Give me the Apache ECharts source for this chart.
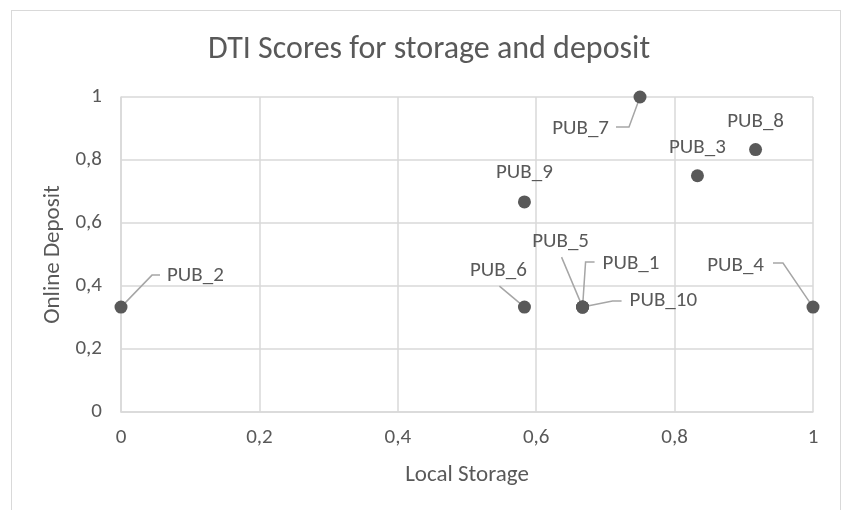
<!DOCTYPE html>
<html>
<head>
<meta charset="utf-8">
<script src="https://cdn.jsdelivr.net/npm/echarts@6/dist/echarts.min.js"></script>
<style>
html,body{margin:0;padding:0;background:#fff;}
#frame{position:absolute;left:11px;top:10px;width:830px;height:520px;border:1px solid #d9d9d9;box-sizing:border-box;}
#chart{position:absolute;left:0;top:0;width:843px;height:510px;}
</style>
</head>
<body>
<div id="frame"></div>
<div id="chart"></div>
<script>
// ---- data ----
const names = ['PUB_1','PUB_2','PUB_3','PUB_4','PUB_5','PUB_6','PUB_7','PUB_8','PUB_9','PUB_10'];
const localStorageScore = [0.667, 0, 0.833, 1, 0.667, 0.583, 0.75, 0.917, 0.583, 0.667];
const onlineDepositScore = [0.333, 0.333, 0.75, 0.333, 0.333, 0.333, 1, 0.833, 0.667, 0.333];
const tickValues = [0, 0.2, 0.4, 0.6, 0.8, 1];

// ---- label placement: text anchor and leader-line bends, px relative to the point ----
const labelPlacement = {
  'PUB_1':  {tx: 20,  ty: -43, align: 'left',   line: [[3, -45], [12, -45]]},
  'PUB_2':  {tx: 46,  ty: -31, align: 'left',   line: [[31, -32], [39, -32]]},
  'PUB_3':  {tx: 0,   ty: -28, align: 'center'},
  'PUB_4':  {tx: -49, ty: -41, align: 'right',  line: [[-30, -44], [-40, -44]]},
  'PUB_5':  {tx: -22, ty: -65, align: 'center', line: [[-21, -50]]},
  'PUB_6':  {tx: -26, ty: -36, align: 'center', line: [[-25, -21]]},
  'PUB_7':  {tx: -31, ty: 32,  align: 'right',  line: [[-11, 30], [-24, 30]]},
  'PUB_8':  {tx: 0,   ty: -28, align: 'center'},
  'PUB_9':  {tx: 0,   ty: -29, align: 'center'},
  'PUB_10': {tx: 47,  ty: -6,  align: 'left',   line: [[30, -6], [39, -6]]}
};

const FONT = 'Carlito, Calibri, Lato, sans-serif';
const TXT = '#595959';

const points = names.map((n, i) => [localStorageScore[i], onlineDepositScore[i], i]);

function fmtTick(v) {
  return String(+v.toFixed(1)).replace('.', ',');
}

const chart = echarts.init(document.getElementById('chart'), null, {renderer: 'canvas'});
chart.setOption({
  backgroundColor: 'transparent',
  animation: false,
  title: {
    text: 'DTI Scores for storage and deposit',
    left: 424, top: 29, textAlign: 'center',
    textStyle: {fontFamily: FONT, fontSize: 32, fontWeight: 'normal', color: TXT}
  },
  grid: {left: 121, right: 30, top: 97, bottom: 98, containLabel: false},
  xAxis: {
    type: 'value', min: 0, max: 1, interval: 0.2,
    name: 'Local Storage', nameLocation: 'middle', nameGap: 52,
    nameTextStyle: {fontFamily: FONT, fontSize: 23, color: TXT},
    axisLine: {show: true, lineStyle: {color: '#d9d9d9', width: 1.5}},
    axisTick: {show: false},
    axisLabel: {fontFamily: FONT, fontSize: 21, color: TXT, margin: 15, formatter: fmtTick},
    splitLine: {show: true, lineStyle: {color: '#d9d9d9', width: 1.5}}
  },
  yAxis: {
    type: 'value', min: 0, max: 1, interval: 0.2,
    name: 'Online Deposit', nameLocation: 'middle', nameGap: 54,
    nameTextStyle: {fontFamily: FONT, fontSize: 23, color: TXT},
    axisLine: {show: true, lineStyle: {color: '#d9d9d9', width: 1.5}},
    axisTick: {show: false},
    axisLabel: {fontFamily: FONT, fontSize: 21, color: TXT, margin: 19, formatter: fmtTick},
    splitLine: {show: true, lineStyle: {color: '#d9d9d9', width: 1.5}}
  },
  series: [{
    type: 'custom',
    z: 2,
    clip: false,
    data: points,
    encode: {x: 0, y: 1},
    renderItem: function (params, api) {
      const idx = api.value(2);
      const n = names[idx];
      const pl = labelPlacement[n];
      const c = api.coord([api.value(0), api.value(1)]);
      const children = [];
      if (pl.line) {
        const pts = [[c[0], c[1]]].concat(pl.line.map(p => [c[0] + p[0], c[1] + p[1]]));
        children.push({
          type: 'polyline',
          shape: {points: pts},
          style: {stroke: '#a6a6a6', lineWidth: 1.5, fill: null}
        });
      }
      children.push({
        type: 'text',
        x: c[0] + pl.tx, y: c[1] + pl.ty,
        style: {
          text: n, fill: TXT, fontFamily: FONT, fontSize: 21,
          align: pl.align, verticalAlign: 'middle'
        }
      });
      return {type: 'group', children: children};
    }
  }, {
    type: 'scatter',
    z: 3,
    symbol: 'circle',
    symbolSize: 13,
    itemStyle: {color: '#595959', opacity: 1},
    data: points
  }]
});
</script>
</body>
</html>
